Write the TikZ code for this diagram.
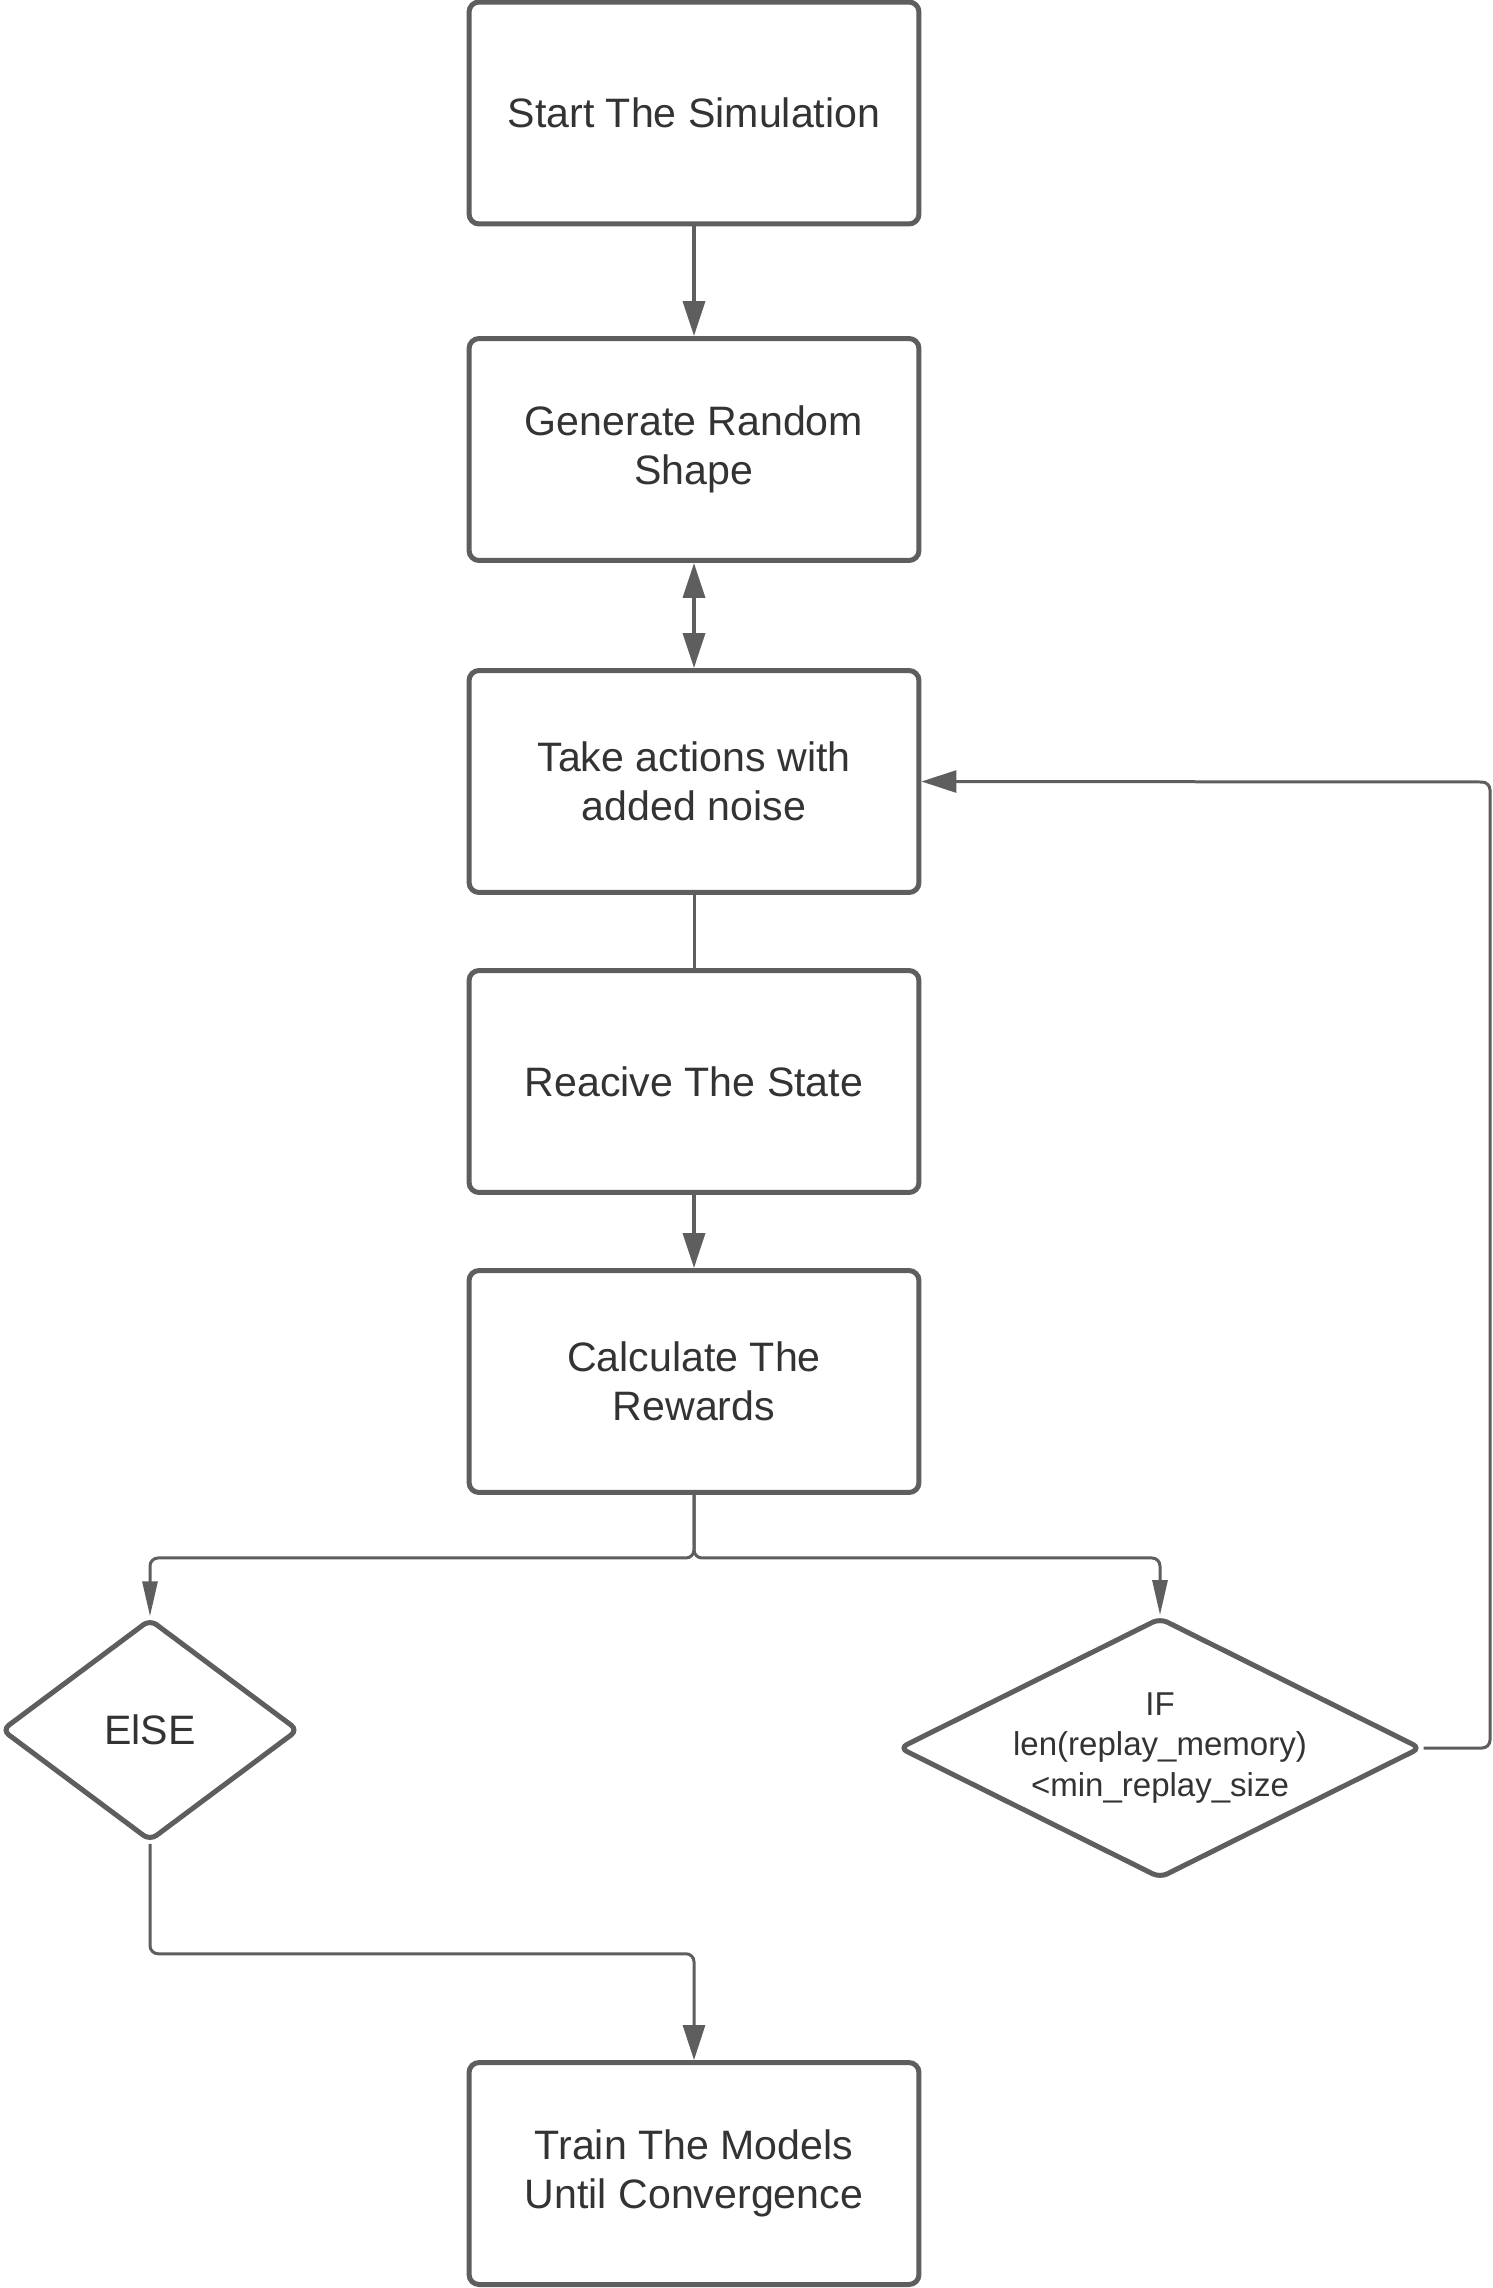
\documentclass[tikz,border=0pt]{standalone}
\usepackage{fontspec}
\setmainfont{Liberation Sans}
\usetikzlibrary{shapes.geometric,arrows.meta}
\definecolor{linegray}{HTML}{5E5E5E}
\definecolor{textgray}{HTML}{333333}
\tikzset{
  procbox/.style={draw=linegray,line width=0.1cm,rounded corners=0.2cm,
    minimum width=9.0cm,minimum height=4.44cm,align=center,inner sep=0pt,
    text=textgray,font=\fontsize{23.4}{28.2}\selectfont},
  decision/.style={diamond,draw=linegray,line width=0.1cm,rounded corners=0.16cm,
    align=center,inner sep=0pt,text=textgray},
  flow/.style={draw=linegray,line width=0.07cm,rounded corners=0.16cm,
    -{Triangle[length=0.7cm,width=0.44cm]}},
  branch/.style={draw=linegray,line width=0.06cm,rounded corners=0.16cm,
    -{Triangle[length=0.7cm,width=0.3cm]}}
}
\begin{document}
\begin{tikzpicture}[x=0.02cm,y=-0.02cm]
  \useasboundingbox (0,0) rectangle (1493,2288);
  % main column
  \node[procbox] (start) at (694,113) {Start The Simulation};
  \node[procbox] (shape) at (694,449.5) {Generate Random\\Shape};
  \node[procbox] (act) at (694,781.5) {Take actions with\\added noise};
  \node[procbox] (state) at (694,1081.5) {Reacive The State};
  \node[procbox] (reward) at (694,1381.5) {Calculate The\\Rewards};
  \node[procbox] (train) at (694,2173.5) {Train The Models\\Until Convergence};
  % decisions
  \node[decision,aspect=1.34,minimum width=5.95cm,minimum height=4.45cm,
    font=\fontsize{23.4}{28.2}\selectfont] (else) at (150,1730) {ElSE};
  \node[decision,aspect=2,minimum width=10.45cm,minimum height=5.22cm,
    font=\fontsize{18.8}{22.8}\selectfont] (cond) at (1160,1748)
    {IF\\len(replay\_memory)\\<min\_replay\_size};
  % connectors
  \draw[flow] (start) -- (shape);
  \draw[flow,{Triangle[length=0.7cm,width=0.44cm]}-{Triangle[length=0.7cm,width=0.44cm]}] (shape) -- (act);
  \draw[draw=linegray,line width=0.06cm] (act) -- (state);
  \draw[flow] (state) -- (reward);
  \draw[branch] (reward.south) -- ++(0,63) -| (else.north);
  \draw[branch] (reward.south) -- ++(0,63) -| (cond.north);
  \draw[flow,line width=0.06cm] (cond.east) -| (1490,782) -- (act.east);
  \draw[flow,line width=0.06cm] (else.south) -- ++(0,110) -| (train.north);
\end{tikzpicture}
\end{document}
